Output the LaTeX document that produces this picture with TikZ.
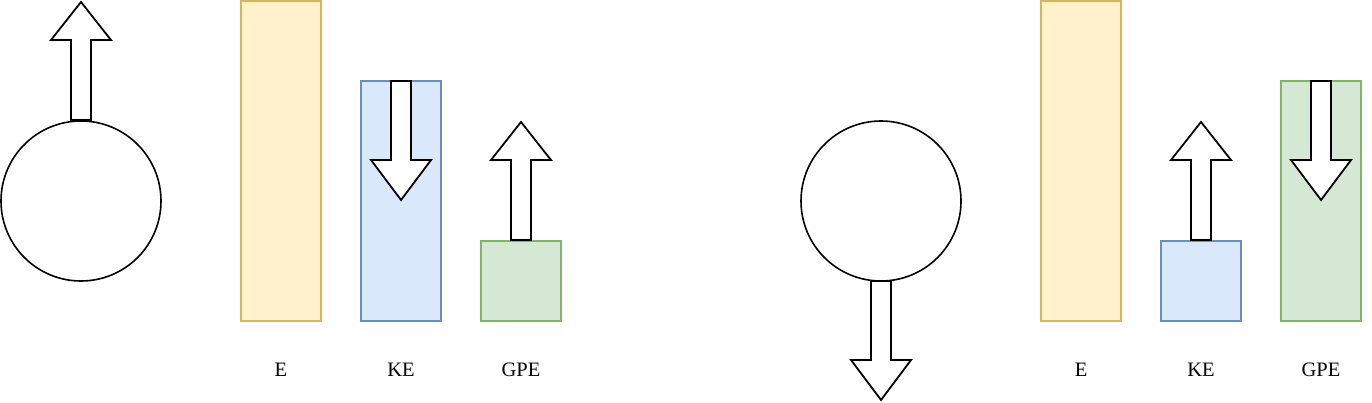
\documentclass[tikz,border=0pt]{standalone}
\usepackage{fontspec}
\setmainfont{Liberation Serif}
\definecolor{yfill}{HTML}{FFF2CC}\definecolor{ydraw}{HTML}{D6B656}
\definecolor{bfill}{HTML}{DAE8FC}\definecolor{bdraw}{HTML}{6C8EBF}
\definecolor{gfill}{HTML}{D5E8D4}\definecolor{gdraw}{HTML}{82B366}
\tikzset{
  ebar/.style={draw=ydraw,fill=yfill,line width=1.4pt},
  kebar/.style={draw=bdraw,fill=bfill,line width=1.4pt},
  gpebar/.style={draw=gdraw,fill=gfill,line width=1.4pt},
  ball/.style={draw=black,line width=1.6pt,fill=white},
  blockarrow/.style={draw=black,fill=white,line width=1.8pt,line join=miter},
  lbl/.style={font=\fontsize{20.5}{24}\selectfont,anchor=center}
}
\begin{document}
\begin{tikzpicture}[x=1pt,y=-1pt]
\useasboundingbox (0,0) rectangle (1372,402);
% left scene
\draw[ball] (81,201) circle (80);
\draw[blockarrow] (71,120) -- (71,40) -- (51,40) -- (81,2) -- (111,40) -- (91,40) -- (91,120) -- cycle;
\draw[ebar] (241,1) rectangle (321,321);
\draw[kebar] (361,81) rectangle (441,321);
\draw[gpebar] (481,241) rectangle (561,321);
\draw[blockarrow] (391,81) -- (391,160) -- (371,160) -- (401,200) -- (431,160) -- (411,160) -- (411,81) -- cycle;
\draw[blockarrow] (511,240) -- (511,160) -- (491,160) -- (521,122) -- (551,160) -- (531,160) -- (531,240) -- cycle;
\node[lbl] (e1) at (281,370) {E};
\node[lbl] (ke1) at (401,370) {KE};
\node[lbl] (gpe1) at (521,370) {GPE};
% right scene
\draw[ball] (881,201) circle (80);
\draw[blockarrow] (871,281) -- (871,360) -- (851,360) -- (881,400) -- (911,360) -- (891,360) -- (891,281) -- cycle;
\draw[ebar] (1041,1) rectangle (1121,321);
\draw[kebar] (1161,241) rectangle (1241,321);
\draw[gpebar] (1281,81) rectangle (1361,321);
\draw[blockarrow] (1191,240) -- (1191,160) -- (1171,160) -- (1201,122) -- (1231,160) -- (1211,160) -- (1211,240) -- cycle;
\draw[blockarrow] (1311,81) -- (1311,160) -- (1291,160) -- (1321,200) -- (1351,160) -- (1331,160) -- (1331,81) -- cycle;
\node[lbl] (e2) at (1081,370) {E};
\node[lbl] (ke2) at (1201,370) {KE};
\node[lbl] (gpe2) at (1321,370) {GPE};
\end{tikzpicture}
\end{document}
